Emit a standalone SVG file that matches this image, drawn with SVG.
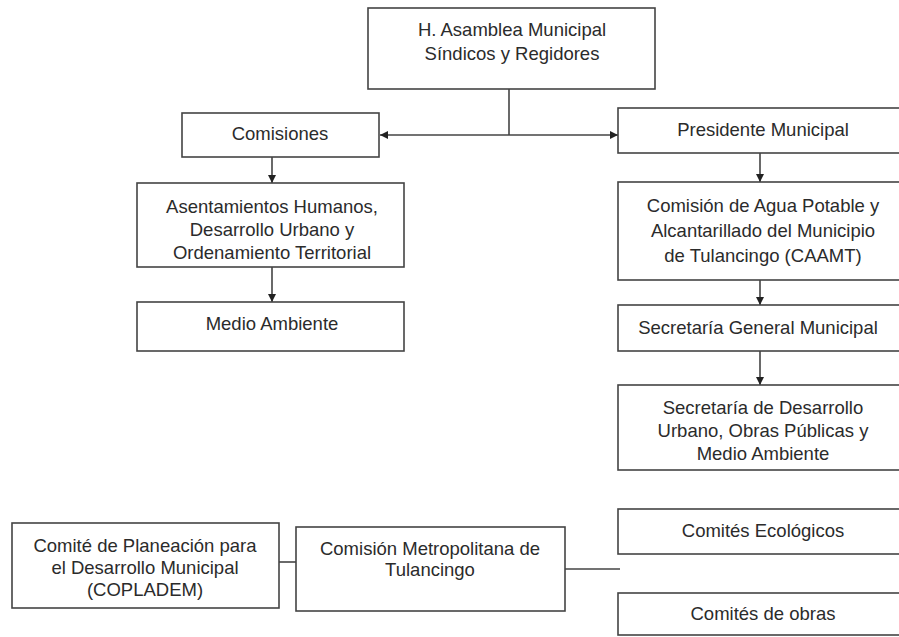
<svg xmlns="http://www.w3.org/2000/svg" width="899" height="637" viewBox="0 0 899 637">
<style>
.box{fill:#fff;stroke:#444;stroke-width:1.6}
.t{font-family:"Liberation Sans",Arial,sans-serif;font-size:18.5px;fill:#2b2b2b;text-anchor:middle;dominant-baseline:central}
.c{fill:none;stroke:#444;stroke-width:1.6}
</style>
<defs>
<marker id="ah" viewBox="0 0 10 10" refX="10" refY="5" markerWidth="8" markerHeight="8" markerUnits="userSpaceOnUse" orient="auto">
<path d="M0,0 L10,5 L0,10 z" fill="#222"/>
</marker>
</defs>
<rect width="899" height="637" fill="#fff"/>
<g id="connectors">
<path class="c" d="M509,89 V135"/>
<path class="c" d="M509,135 H380" marker-end="url(#ah)"/>
<path class="c" d="M509,135 H618" marker-end="url(#ah)"/>
<path class="c" d="M272,157 V183" marker-end="url(#ah)"/>
<path class="c" d="M272,267 V302" marker-end="url(#ah)"/>
<path class="c" d="M760,153 V182" marker-end="url(#ah)"/>
<path class="c" d="M760,280 V305" marker-end="url(#ah)"/>
<path class="c" d="M760,351 V385" marker-end="url(#ah)"/>
<path class="c" d="M279,562 H296"/>
<path class="c" d="M565,569 H620"/>
</g>
<g id="asamblea"><rect class="box" x="368" y="8" width="287" height="81"/>
<text class="t" x="512" y="29">H. Asamblea Municipal</text>
<text class="t" x="512" y="53">Síndicos y Regidores</text></g>
<g id="comisiones"><rect class="box" x="182" y="113" width="197" height="44"/>
<text class="t" x="280" y="133">Comisiones</text></g>
<g id="asentamientos"><rect class="box" x="137" y="183" width="267" height="84"/>
<text class="t" x="272" y="206">Asentamientos Humanos,</text>
<text class="t" x="272" y="229">Desarrollo Urbano y</text>
<text class="t" x="272" y="252">Ordenamiento Territorial</text></g>
<g id="medio"><rect class="box" x="137" y="302" width="267" height="49"/>
<text class="t" x="272" y="323">Medio Ambiente</text></g>
<g id="presidente"><rect class="box" x="618" y="108" width="300" height="45"/>
<text class="t" x="763" y="129">Presidente Municipal</text></g>
<g id="caamt"><rect class="box" x="618" y="182" width="300" height="98"/>
<text class="t" x="763" y="205">Comisión de Agua Potable y</text>
<text class="t" x="763" y="230">Alcantarillado del Municipio</text>
<text class="t" x="763" y="255">de Tulancingo (CAAMT)</text></g>
<g id="secgeneral"><rect class="box" x="618" y="305" width="300" height="46"/>
<text class="t" x="758" y="327">Secretaría General Municipal</text></g>
<g id="secdesarrollo"><rect class="box" x="618" y="385" width="300" height="85"/>
<text class="t" x="763" y="407">Secretaría de Desarrollo</text>
<text class="t" x="763" y="430">Urbano, Obras Públicas y</text>
<text class="t" x="763" y="453">Medio Ambiente</text></g>
<g id="copladem"><rect class="box" x="12" y="523" width="267" height="85"/>
<text class="t" x="145" y="545">Comité de Planeación para</text>
<text class="t" x="145" y="567">el Desarrollo Municipal</text>
<text class="t" x="145" y="589">(COPLADEM)</text></g>
<g id="metropolitana"><rect class="box" x="296" y="527" width="269" height="84"/>
<text class="t" x="430" y="548">Comisión Metropolitana de</text>
<text class="t" x="430" y="569">Tulancingo</text></g>
<g id="ecologicos"><rect class="box" x="618" y="509" width="300" height="45"/>
<text class="t" x="763" y="530">Comités Ecológicos</text></g>
<g id="obras"><rect class="box" x="618" y="593" width="300" height="42"/>
<text class="t" x="763" y="613">Comités de obras</text></g>
</svg>
